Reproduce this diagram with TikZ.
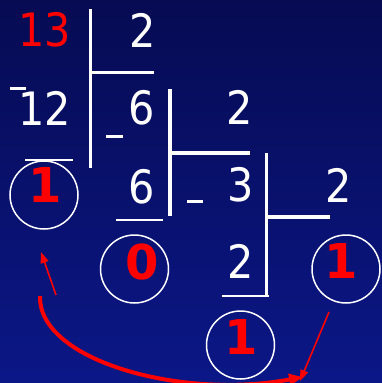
\documentclass[tikz,border=0pt]{standalone}
\usepackage{fontspec}
\setmainfont{DejaVu Sans Condensed}
\newfontfamily\bitfont{DejaVu Sans}
\usepackage{xcolor}
\usetikzlibrary{arrows.meta}
\definecolor{navytop}{RGB}{6,11,82}
\definecolor{navybot}{RGB}{11,23,135}

\begin{document}
\begin{tikzpicture}[x=1pt, y=-1pt,
  num/.style={text=white, inner sep=0pt, font=\fontsize{46}{48}\selectfont},
  bit/.style={text=red, inner sep=0pt, font=\bitfont\bfseries\fontsize{48}{50}\selectfont},
  ring/.style={draw=white, line width=1.5pt, circle, minimum size=68pt, inner sep=0pt},
  divbar/.style={white, line width=3.5pt},
  uline/.style={white, line width=2pt},
  negbar/.style={white, line width=3pt},
  arr/.style={red, line width=1.6pt, -{Triangle[length=11pt, width=8pt]}}]
\shade[top color=navytop, bottom color=navybot] (0,0) rectangle (382,383);
\useasboundingbox (0,0) rectangle (382,383);
% numbers of the division
\node[num, text=red] (dvd) at (45,30) {13};
\node[num] (dvs1) at (143,30) {2};
\node[num] (sub1) at (45,108) {12};
\node[num] (q1) at (142,108) {6};
\node[num] (dvs2) at (240,107) {2};
\node[num] (sub2) at (142,187) {6};
\node[num] (q2) at (241,185) {3};
\node[num] (dvs3) at (339,185) {2};
\node[num] (sub3) at (241,261) {2};
% circled remainders
\node[ring] (c0) at (44,195) {};
\node[bit] (r0) at (45,185) {1};
\node[ring] (c1) at (134.5,269) {};
\node[bit] (r1) at (142,262) {0};
\node[ring] (c2) at (346,269) {};
\node[bit] (r2) at (341,261) {1};
\node[ring] (c3) at (240.5,345) {};
\node[bit] (q3) at (241,337) {1};
% division bars
\draw[divbar] (90.5,9) -- (90.5,168) (90.5,72.5) -- (154,72.5);
\draw[divbar] (170,89) -- (170,216) (170,153) -- (250,153);
\draw[divbar] (266.5,153) -- (266.5,295) (266.5,217) -- (330,217);
\draw[uline] (25,160) -- (73,160);
\draw[uline] (116,220) -- (163,220);
\draw[uline] (222,296) -- (269,296);
\draw[negbar] (10,88.5) -- (26,88.5);
\draw[negbar] (106,136.5) -- (123,136.5);
\draw[negbar] (187,201) -- (203,201);
% reading direction
\coordinate (a0) at (56,295);
\coordinate (a1) at (41,252);
\coordinate (b0) at (40,296);
\coordinate (b1) at (303,377);
\coordinate (e0) at (329,312);
\coordinate (e1) at (300,381);
\draw[arr] (a0) -- (a1);
\draw[arr, line width=4pt, -{Triangle[length=14pt, width=11pt]}] (b0) .. controls (38,360) and (180,400) .. (b1);
\draw[arr] (e0) -- (e1);
\end{tikzpicture}
\end{document}
